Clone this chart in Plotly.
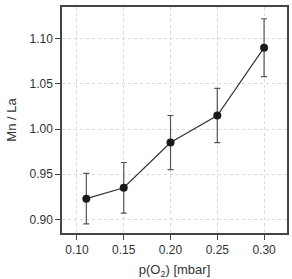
import plotly.graph_objects as go

p_o2 = [0.11, 0.15, 0.20, 0.25, 0.30]
mn_la = [0.923, 0.935, 0.985, 1.015, 1.090]
err = [0.028, 0.028, 0.030, 0.030, 0.032]
x_ticks = [0.10, 0.15, 0.20, 0.25, 0.30]
y_ticks = [0.90, 0.95, 1.00, 1.05, 1.10]

fig = go.Figure()
fig.add_trace(go.Scatter(
    x=p_o2, y=mn_la, mode="lines+markers",
    line=dict(color="#333333", width=1.2),
    marker=dict(color="#1a1a1a", size=8),
    error_y=dict(type="data", array=err, visible=True, color="#555555", thickness=1.2, width=3),
    showlegend=False,
))

axis_common = dict(
    showline=True, linecolor="#444444", linewidth=1.5, mirror=True,
    ticks="outside", ticklen=5, tickcolor="#444444", tickwidth=1,
    showgrid=True, gridcolor="#d9d9d9", griddash="dot", gridwidth=1,
    zeroline=False,
    tickfont=dict(family="Liberation Sans, Arial", size=12, color="#333333"),
    title_font=dict(family="Liberation Sans, Arial", size=13, color="#333333"),
)

fig.update_xaxes(range=[0.084, 0.3245], tickvals=x_ticks, ticktext=[f"{v:.2f}" for v in x_ticks],
                 title_text="p(O<sub>2</sub>) [mbar]", title_standoff=10, **axis_common)
fig.update_yaxes(range=[0.885, 1.135], tickvals=y_ticks, ticktext=[f"{v:.2f}" for v in y_ticks],
                 title_text="Mn / La", title_standoff=10, **axis_common)

fig.update_layout(
    width=292, height=279,
    margin=dict(l=62, r=3, t=7, b=45),
    plot_bgcolor="white", paper_bgcolor="white",
)
fig.write_html("out.html")
